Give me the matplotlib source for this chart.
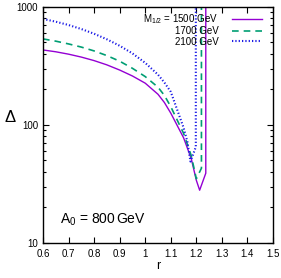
import numpy as np
import matplotlib.pyplot as plt

plt.rcParams['font.family'] = ['Liberation Sans', 'DejaVu Sans']
plt.rcParams['mathtext.fontset'] = 'custom'
plt.rcParams['mathtext.rm'] = 'Liberation Sans'
plt.rcParams['mathtext.it'] = 'Liberation Sans'

# values (r, Delta), last point is the vertical wall
r_1500 = [0.6, 0.65, 0.7, 0.75, 0.8, 0.85, 0.9, 0.95, 1.0, 1.05, 1.075, 1.1, 1.15, 1.18, 1.2, 1.213, 1.237, 1.237]
d_1500 = [432, 417, 398, 376, 351, 323, 292, 260, 226, 182, 155, 126, 78, 52, 34, 28, 39, 3000]

r_1700 = [0.6, 0.65, 0.7, 0.75, 0.8, 0.85, 0.9, 0.95, 1.0, 1.05, 1.075, 1.1, 1.15, 1.18, 1.2, 1.22, 1.22]
d_1700 = [536, 513, 486, 457, 424, 387, 347, 302, 257, 209, 178, 143, 85, 55, 35, 43, 3000]

r_2100 = [0.6, 0.65, 0.7, 0.75, 0.8, 0.85, 0.9, 0.95, 1.0, 1.05, 1.075, 1.1, 1.15, 1.165, 1.177, 1.198, 1.198]
d_2100 = [791, 750, 703, 650, 593, 532, 469, 404, 336, 267, 229, 191, 95, 72, 49, 65, 3000]

labels = [r'M$_{1/2}$ = 1500 GeV', '1700 GeV', '2100 GeV']

fig = plt.figure(figsize=(2.81, 2.78), dpi=100)
ax = fig.add_axes([0.153, 0.126, 0.8185, 0.849])

ax.plot(r_1500, d_1500, color='#9400d3', lw=1.0, label=labels[0])
ax.plot(r_1700, d_1700, color='#009e73', lw=1.2, dashes=(4, 3), label=labels[1])
ax.plot(r_2100, d_2100, color='#1a1ae6', lw=1.5, dashes=(0.6, 1.0), label=labels[2])

ax.set_yscale('log')
ax.set_xlim(0.6, 1.5)
ax.set_ylim(10, 1000)
ax.set_xticks(np.arange(0.6, 1.51, 0.1))
ax.set_xticklabels(['0.6', '0.7', '0.8', '0.9', '1', '1.1', '1.2', '1.3', '1.4', '1.5'])
ax.set_yticks([10, 100, 1000])
ax.set_yticklabels(['10', '100', '1000'])
ax.tick_params(which='both', direction='in', top=True, right=True, labelsize=7, width=0.8)
ax.tick_params(which='major', length=4)
ax.tick_params(axis='x', which='major', pad=4)
ax.tick_params(which='minor', length=2)
ax.tick_params(axis='x', which='minor', bottom=False, top=False)
for s in ax.spines.values():
    s.set_linewidth(1.0)

ax.set_xlabel('r', fontsize=9, labelpad=1)
ax.set_ylabel(r'$\Delta$', fontsize=12, rotation=0, labelpad=6)
ax.yaxis.set_label_coords(-0.14, 0.5)

ax.text(0.074, 0.097, r'A$_0$ = 800$\,$GeV', transform=ax.transAxes, fontsize=10, va='center', ha='left')

ax.legend(loc='upper right', bbox_to_anchor=(0.97, 0.995), frameon=False, fontsize=7,
          markerfirst=False, handlelength=3.1, handletextpad=1.4, labelspacing=0.05,
          borderaxespad=0.2, borderpad=0.2)

fig.savefig('out.png', dpi=100)
